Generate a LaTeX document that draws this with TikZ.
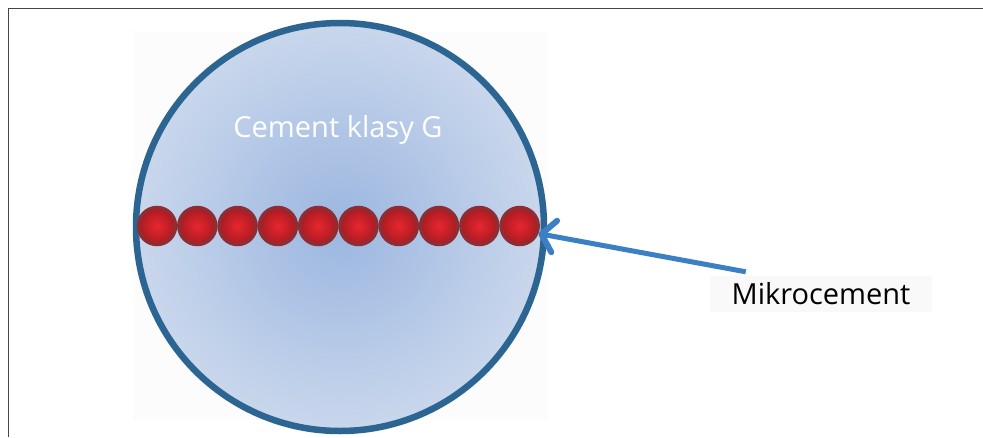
\documentclass[tikz,border=0pt]{standalone}
\usepackage{fontspec}
\setmainfont{Open Sans}
\tikzset{>=stealth}
\usetikzlibrary{arrows.meta}
\usetikzlibrary{shapes,positioning}
\definecolor{ramka}{HTML}{454545}
\definecolor{obwod}{HTML}{2C6592}
\definecolor{srodek}{HTML}{9BB6E0}
\definecolor{brzeg}{HTML}{C9D7EC}
\definecolor{strzalka}{HTML}{3A80C2}
\definecolor{ziarnoin}{HTML}{E8262E}
\definecolor{ziarnoout}{HTML}{A81B22}
\definecolor{ziarnobrzeg}{HTML}{8E2D33}
\tikzset{
  ziarno/.style={circle,draw=ziarnobrzeg,line width=3.5pt,inner color=ziarnoin,outer color=ziarnoout,minimum size=37pt,inner sep=0pt},
  napis/.style={font=\fontsize{29}{34}\selectfont}
}

\begin{document}
\begin{tikzpicture}[x=1pt,y=-1pt]
	\useasboundingbox (0,0) rectangle (983,437);
	\fill[black!1] (133,31) rectangle (548,420);
	\draw[ramka,line width=1.5pt] (8.5,437) -- (8.5,8.5) -- (983,8.5);
	% czastka cementu
	\node[circle,draw=obwod,line width=6.5pt,inner color=srodek,outer color=brzeg,minimum size=408pt,inner sep=0pt] (cem) at (340,227) {};
	\node[napis,text=white] (opis) at (338,130) {Cement klasy G};
	% mikrocement
	\foreach \i in {1,...,10}
		\node[ziarno] (b\i) at ({157+40.3*(\i-1)},226) {};
	\node[napis,fill=black!2.5,minimum width=222pt,minimum height=36pt] (mikro) at (821,294) {Mikrocement};
	\coordinate (start) at ([xshift=36pt,yshift=4pt]mikro.north west);
	\draw[strzalka,line width=5pt,-{Straight Barb[length=13pt,width=32pt,line width=0pt 1.2,round]}] (start) -- (b10.-22);
\end{tikzpicture}
\end{document}
